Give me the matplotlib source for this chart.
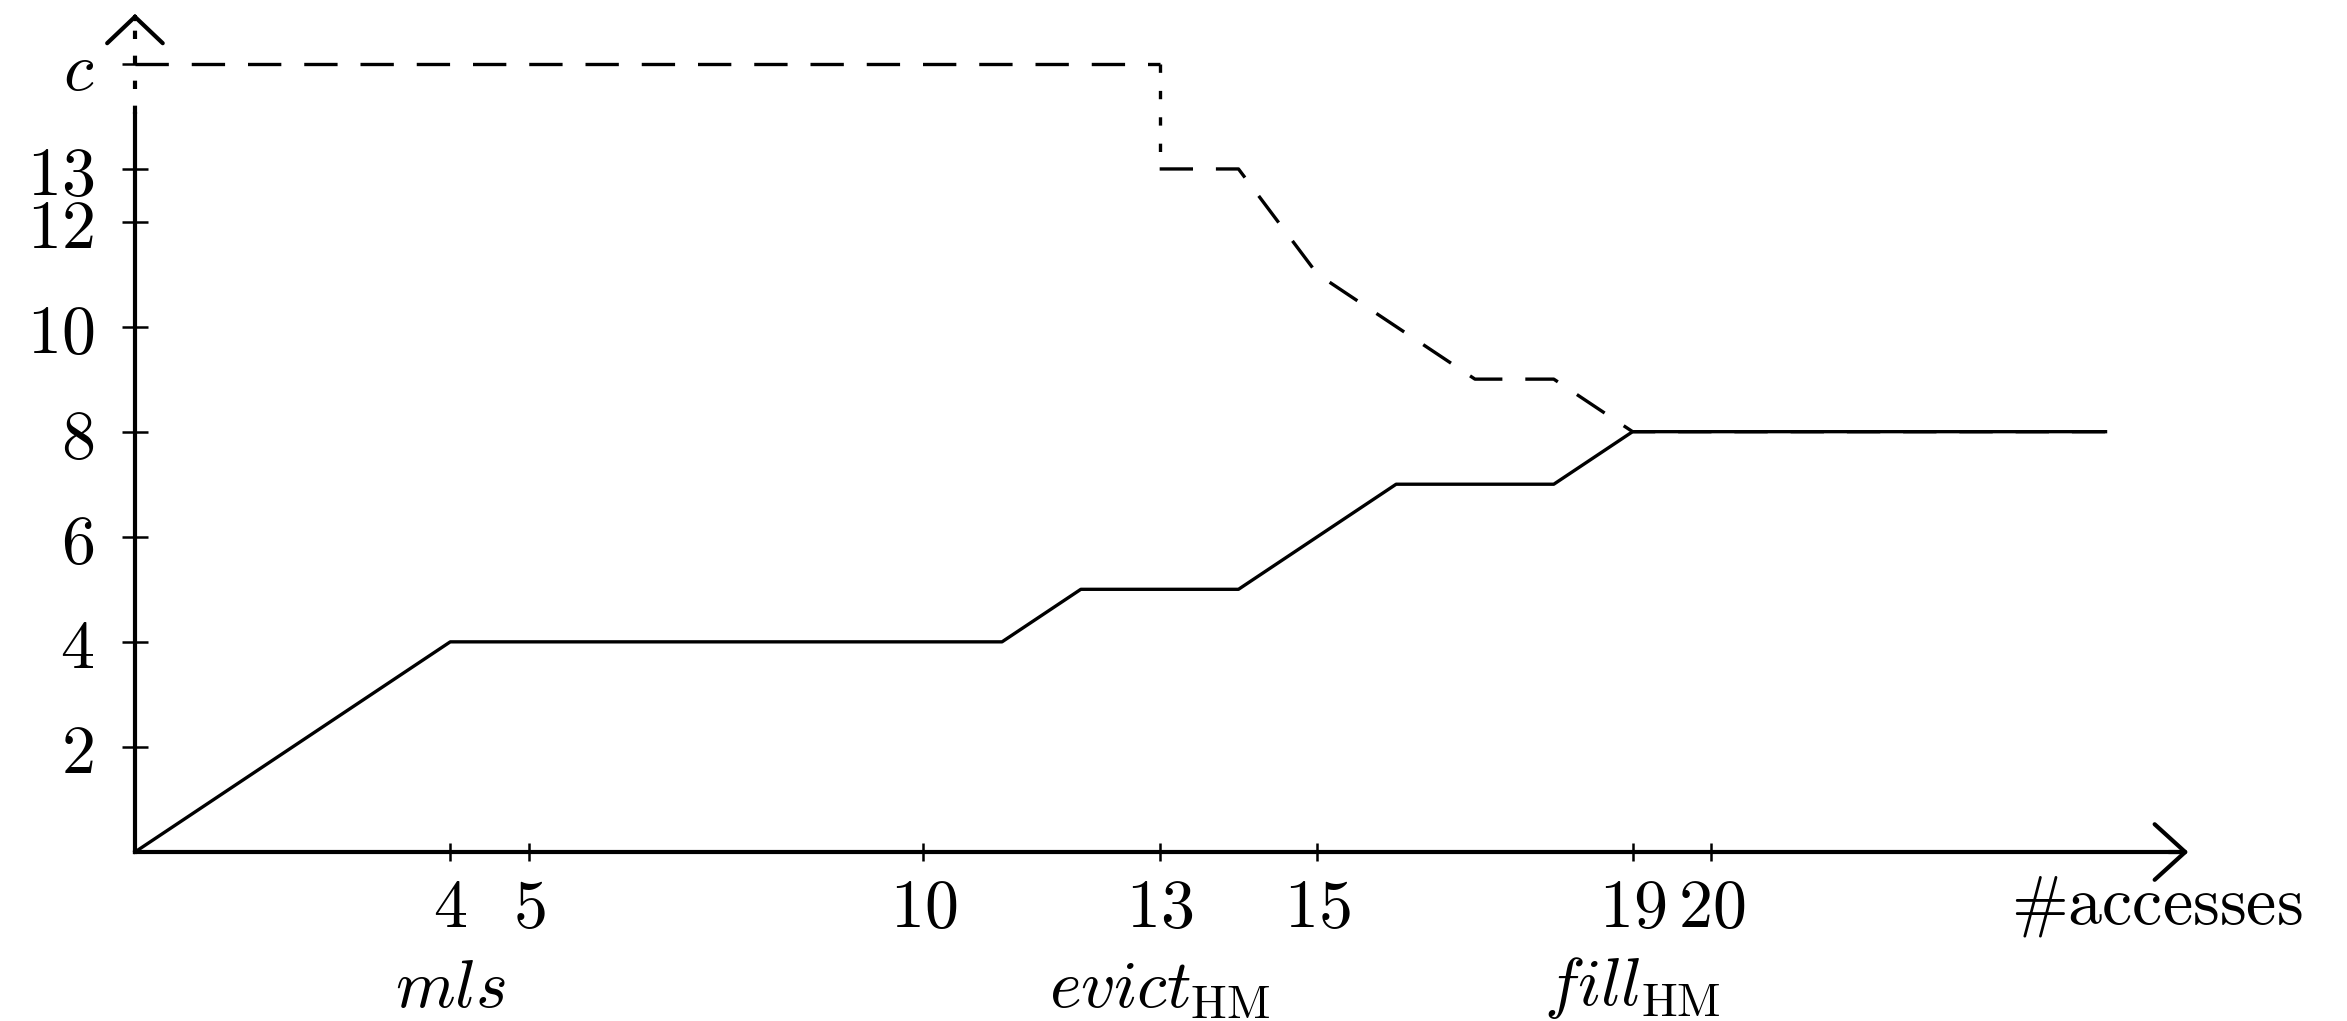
import matplotlib.pyplot as plt

plt.rcParams['mathtext.fontset'] = 'cm'
plt.rcParams['lines.scale_dashes'] = False

# -----------------------------
# data
# -----------------------------
c_val = 15

# solid curve (lower bound)
lower_x = [0, 4, 11, 12, 14, 16, 18, 19, 25]
lower_y = [0, 4, 4, 5, 5, 7, 7, 8, 8]

# dashed curve (upper bound)
upper_top_x = [0, 13]
upper_top_y = [c_val, c_val]
drop_x = [13, 13]
drop_y = [c_val, 13]
upper_x = [13, 14, 15, 16, 17, 18, 19, 25]
upper_y = [13, 13, 11, 10, 9, 9, 8, 8]

xticks = [4, 5, 10, 13, 15, 19, 20]
yticks = [2, 4, 6, 8, 10, 12, 13, c_val]
ytick_labels = ['$2$', '$4$', '$6$', '$8$', '$10$', '$12$', '$13$', '$c$']

event_x = [4, 13, 19]
event_labels = [r'$mls$', r'$evict_{\mathrm{HM}}$', r'$fill_{\mathrm{HM}}$']

# -----------------------------
# figure
# -----------------------------
fig = plt.figure(figsize=(23.47, 10.21), dpi=100)
ax = fig.add_axes([0.0575, 0.1655, 0.890, 0.8337])
ax.set_xlim(0, 26.5)
ax.set_ylim(0, 16.2)

ax.plot(lower_x, lower_y, color='k', lw=2.4, clip_on=False)
ax.plot(upper_top_x, upper_top_y, color='k', lw=2.4, dashes=(24, 16.5), clip_on=False)
ax.plot(drop_x, drop_y, color='k', lw=2.4, dashes=(6, 13), clip_on=False)
ax.plot(upper_x, upper_y, color='k', lw=2.4, dashes=(24, 16.5), clip_on=False)

# axes as arrows
for s in ['top', 'right']:
    ax.spines[s].set_visible(False)
ax.spines['left'].set_bounds(0, 14.05)
ax.spines['bottom'].set_bounds(0, 26)
ax.spines['left'].set_linewidth(3)
ax.spines['bottom'].set_linewidth(3)

ax.plot([0, 0], [14.05, 15.9], color='k', lw=3, dashes=(6, 12), clip_on=False)
ax.annotate('', xy=(0, 15.95), xytext=(0, 15.85),
            arrowprops=dict(arrowstyle='->,head_length=0.95,head_width=1.0',
                            lw=3, mutation_scale=20, shrinkA=0, shrinkB=0),
            annotation_clip=False)
ax.annotate('', xy=(26.05, 0), xytext=(25.8, 0),
            arrowprops=dict(arrowstyle='->,head_length=1.1,head_width=1.0',
                            lw=3, mutation_scale=20, shrinkA=0, shrinkB=0),
            annotation_clip=False)

ax.set_xticks(xticks, [f'${t}$' for t in xticks])
ax.set_yticks(yticks, ytick_labels)
ax.tick_params(axis='x', direction='inout', length=13, width=1.8, labelsize=49, pad=10)
ax.tick_params(axis='y', direction='inout', length=19, width=1.8, labelsize=49, pad=20)

for x, lab in zip(event_x, event_labels):
    ax.text(x, -0.16, lab, transform=ax.get_xaxis_transform(),
            ha='center', va='center', fontsize=49)

ax.text(23.8, -0.0635, r'$\#\mathrm{accesses}$', transform=ax.get_xaxis_transform(),
        ha='left', va='center', fontsize=49)

plt.savefig('out.png', dpi=100)
